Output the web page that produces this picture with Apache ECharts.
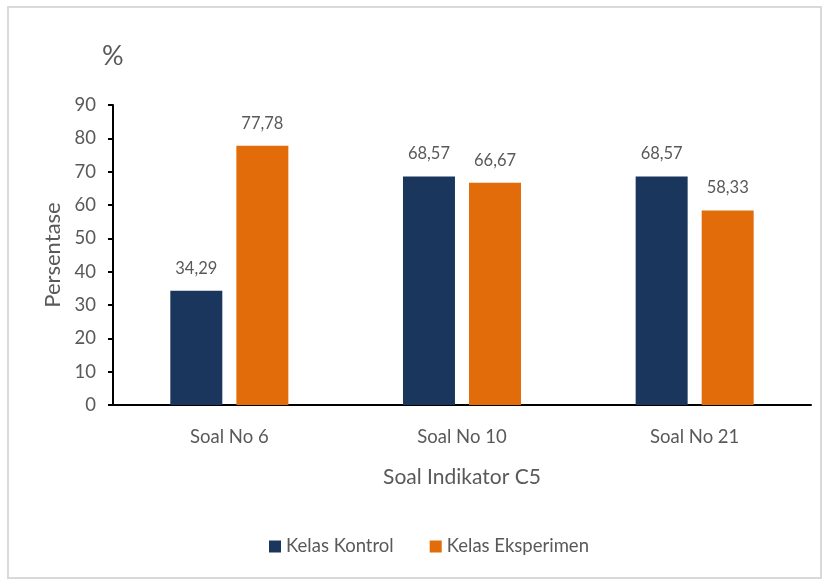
<!DOCTYPE html>
<html>
<head>
<meta charset="utf-8">
<script src="https://cdn.jsdelivr.net/npm/echarts@6/dist/echarts.min.js"></script>
<style>
  html, body { margin: 0; padding: 0; background: #fff; }
  #chart { width: 823px; height: 581px; }
</style>
</head>
<body>
<div id="chart"></div>
<script>
var categories = ["Soal No 6", "Soal No 10", "Soal No 21"];
var kontrol = [34.29, 68.57, 68.57];
var eksperimen = [77.78, 66.67, 58.33];
var yTicks = [0, 10, 20, 30, 40, 50, 60, 70, 80, 90];

var textColor = "#595959";
var fontFam = "Lato, 'Open Sans', sans-serif";

var myChart = echarts.init(document.getElementById("chart"));
var labelOpt = {
  show: true,
  position: "top",
  distance: 14,
  color: textColor,
  fontSize: 16.5,
  fontFamily: fontFam,
  formatter: function (p) { return p.value.toFixed(2).replace(".", ","); }
};
var option = {
  animation: false,
  graphic: [
    {
      type: "rect",
      shape: { x: 8, y: 7, width: 813, height: 571 },
      style: { fill: "none", stroke: "#d9d9d9", lineWidth: 2 }
    },
    {
      type: "text",
      left: 102, top: 43,
      style: { text: "%", fill: textColor, fontSize: 27, fontFamily: fontFam }
    }
  ],
  grid: { left: 113, right: 12, top: 105, bottom: 176 },
  legend: {
    bottom: 20,
    left: 264,
    itemWidth: 12,
    itemHeight: 12,
    itemGap: 36,
    icon: "rect",
    textStyle: { color: textColor, fontSize: 18.5, fontFamily: fontFam },
    data: ["Kelas Kontrol", "Kelas Eksperimen"]
  },
  xAxis: {
    type: "category",
    data: categories,
    name: "Soal Indikator C5",
    nameLocation: "middle",
    nameGap: 62,
    nameTextStyle: { color: textColor, fontSize: 21, fontFamily: fontFam },
    axisLine: { lineStyle: { color: "#000", width: 2 } },
    axisTick: { show: false },
    axisLabel: { color: textColor, fontSize: 18.5, fontFamily: fontFam, margin: 23 }
  },
  yAxis: {
    type: "value",
    min: yTicks[0],
    max: yTicks[yTicks.length - 1],
    interval: 10,
    name: "Persentase",
    nameLocation: "middle",
    nameGap: 49,
    nameTextStyle: { color: textColor, fontSize: 22, fontFamily: fontFam },
    axisLine: { show: true, lineStyle: { color: "#000", width: 2 } },
    axisTick: { show: true, length: 5, lineStyle: { color: "#000", width: 2 } },
    splitLine: { show: false },
    axisLabel: { color: textColor, fontSize: 18.5, fontFamily: fontFam, margin: 17 }
  },
  series: [
    {
      name: "Kelas Kontrol",
      type: "bar",
      data: kontrol,
      barWidth: 52,
      barGap: "27%",
      itemStyle: { color: "#1b365d" },
      label: labelOpt
    },
    {
      name: "Kelas Eksperimen",
      type: "bar",
      data: eksperimen,
      barWidth: 52,
      itemStyle: { color: "#e36c0a" },
      label: labelOpt
    }
  ]
};
myChart.setOption(option);
</script>
</body>
</html>
